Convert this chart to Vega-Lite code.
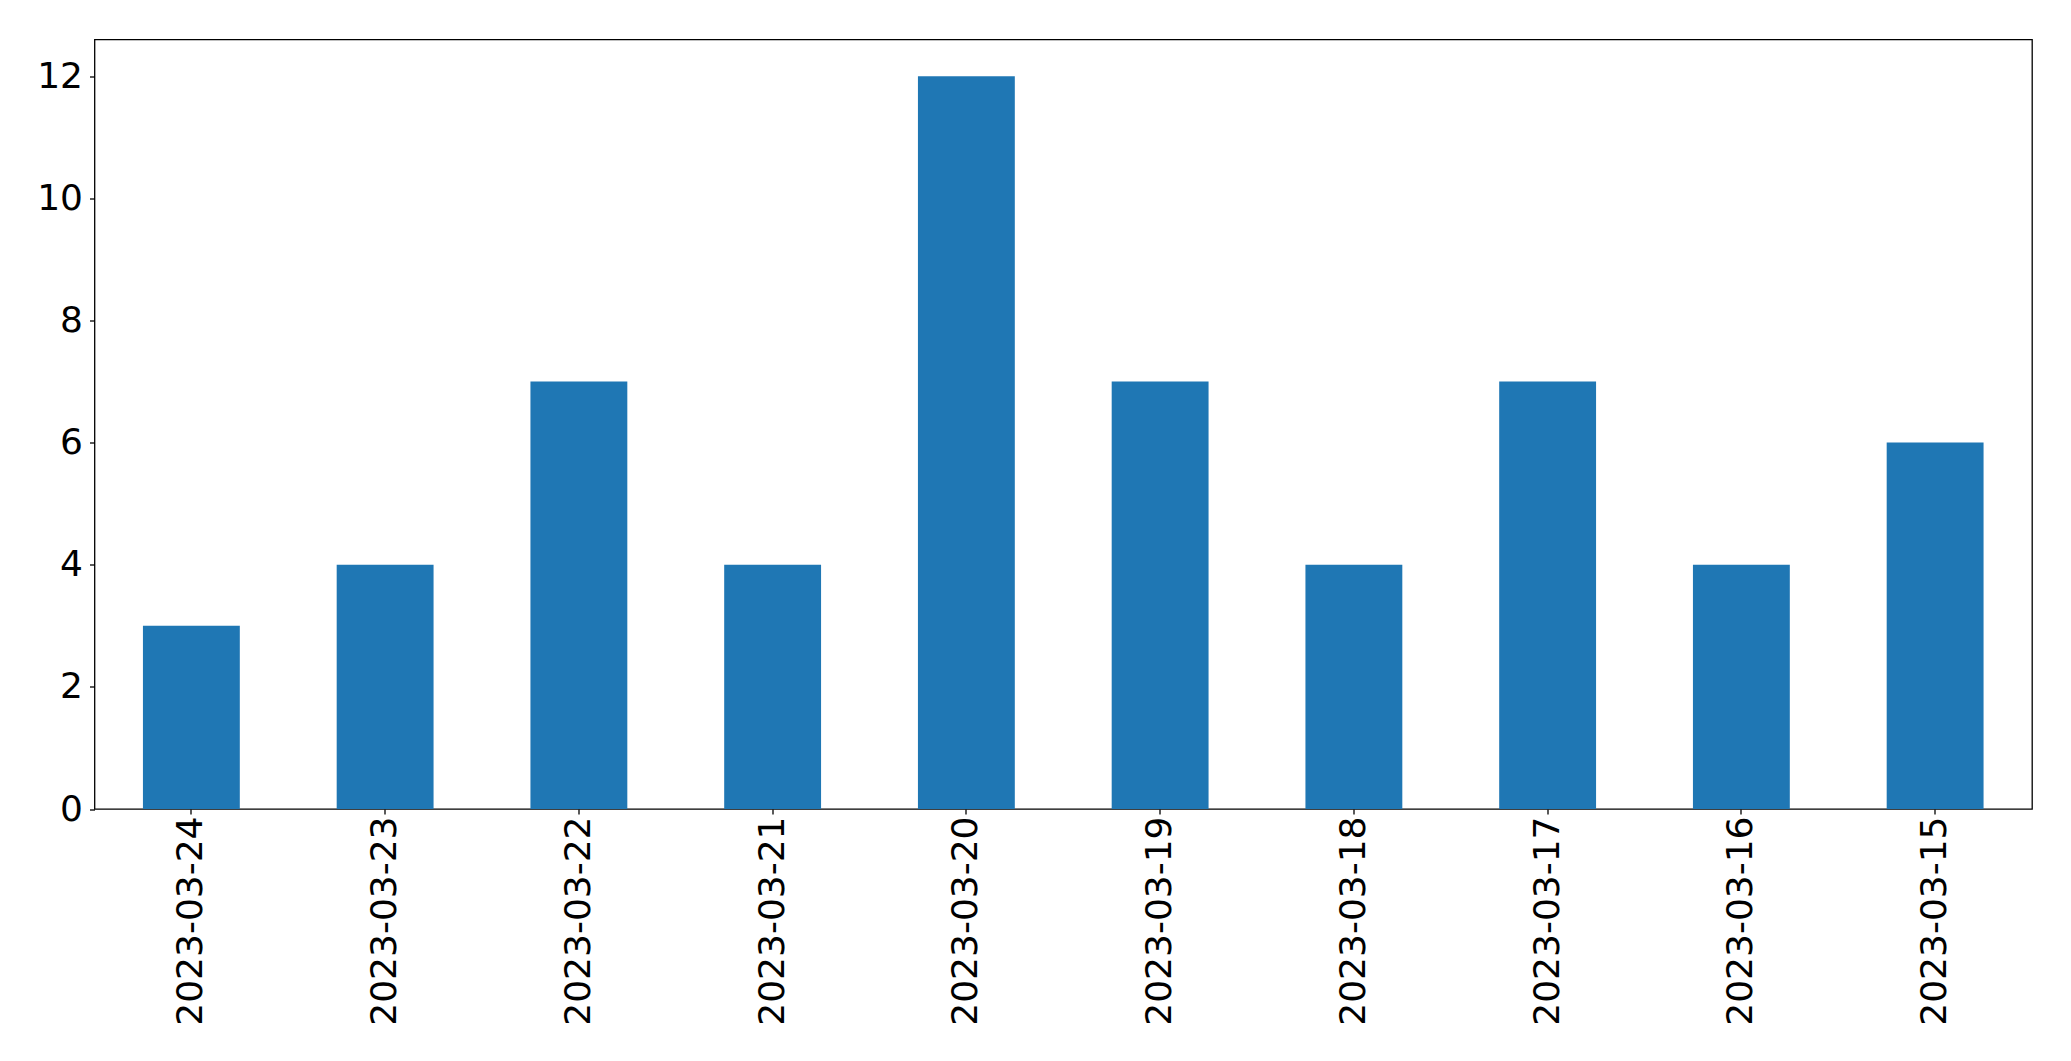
{
  "$schema": "https://vega.github.io/schema/vega-lite/v6.json",
  "width": 1937.5,
  "height": 769.5,
  "autosize": {"type": "none"},
  "padding": {"left": 94.5, "top": 39.5, "right": 39, "bottom": 252},
  "background": "white",
  "config": {
    "view": {"stroke": "#000000", "strokeWidth": 1.3},
    "axis": {
      "labelFont": "DejaVu Sans",
      "labelFontSize": 36,
      "labelColor": "#000000",
      "labelLimit": 0,
      "tickColor": "#000000",
      "tickSize": 5,
      "tickWidth": 1.3,
      "domain": false,
      "grid": false,
      "title": null
    }
  },
  "data": {
    "values": [
      {"date": "2023-03-24", "count": 3},
      {"date": "2023-03-23", "count": 4},
      {"date": "2023-03-22", "count": 7},
      {"date": "2023-03-21", "count": 4},
      {"date": "2023-03-20", "count": 12},
      {"date": "2023-03-19", "count": 7},
      {"date": "2023-03-18", "count": 4},
      {"date": "2023-03-17", "count": 7},
      {"date": "2023-03-16", "count": 4},
      {"date": "2023-03-15", "count": 6}
    ]
  },
  "mark": {"type": "bar", "color": "#1f77b4"},
  "encoding": {
    "x": {
      "field": "date",
      "type": "nominal",
      "sort": null,
      "scale": {"paddingInner": 0.5, "paddingOuter": 0.25},
      "axis": {"labelAngle": -90, "labelAlign": "right", "labelBaseline": "middle", "labelPadding": 2}
    },
    "y": {
      "field": "count",
      "type": "quantitative",
      "scale": {"domain": [0, 12.6], "nice": false, "zero": true},
      "axis": {"values": [0, 2, 4, 6, 8, 10, 12], "labelPadding": 7}
    }
  }
}
